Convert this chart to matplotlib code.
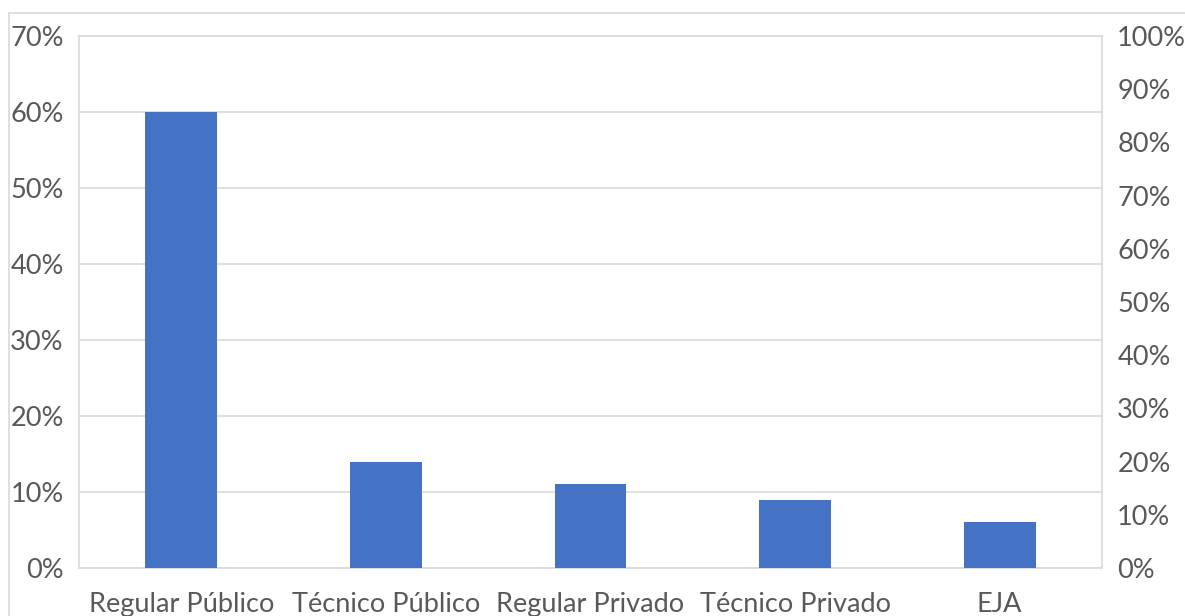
import matplotlib.pyplot as plt
from matplotlib.patches import Rectangle
from matplotlib.ticker import FuncFormatter, MultipleLocator

plt.rcParams['font.family'] = ['Lato', 'DejaVu Sans']

categories = ['Regular Público', 'Técnico Público', 'Regular Privado', 'Técnico Privado', 'EJA']
shares = [60, 14, 11, 9, 6]

bar_color = '#4472c4'
text_color = '#595959'
grid_color = '#d9d9d9'

fig = plt.figure(figsize=(11.85, 6.16), dpi=100)
ax = fig.add_axes([79 / 1185, 1 - 568 / 616, 1023 / 1185, 532 / 616])

x = range(len(categories))
ax.bar(x, shares, width=0.35, color=bar_color, zorder=3)
ax.set_xlim(-0.5, len(categories) - 0.5)
ax.set_ylim(0, 70)
ax.yaxis.set_major_locator(MultipleLocator(10))
ax.yaxis.set_major_formatter(FuncFormatter(lambda v, p: f'{v:.0f}%'))
ax.set_xticks(list(x))
ax.set_xticklabels(categories)
ax.grid(axis='y', color=grid_color, linewidth=1.2, zorder=0)

for side, spine in ax.spines.items():
    spine.set_color(grid_color)
    spine.set_linewidth(1.2)

ax.tick_params(axis='both', length=0, labelsize=19.5, labelcolor=text_color)
ax.tick_params(axis='y', pad=11)
ax.tick_params(axis='x', pad=17)

# secondary scale on the right, 0-100%
ax2 = ax.twinx()
ax2.set_ylim(0, 100)
ax2.yaxis.set_major_locator(MultipleLocator(10))
ax2.yaxis.set_major_formatter(FuncFormatter(lambda v, p: f'{v:.0f}%'))
ax2.tick_params(axis='y', length=0, labelsize=19.5, labelcolor=text_color, pad=11)
for spine in ax2.spines.values():
    spine.set_visible(False)

# outer chart frame
fig.patches.append(Rectangle((8.5 / 1185, -0.1), 1.2, 1 - 12.5 / 616 + 0.1,
                             transform=fig.transFigure, fill=False,
                             edgecolor=grid_color, linewidth=1.2))

fig.savefig('out.png', dpi=100)
